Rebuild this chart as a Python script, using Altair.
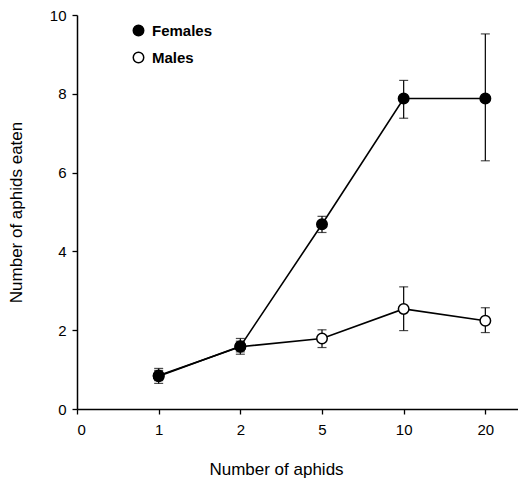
import altair as alt
import pandas as pd

x_labels = ["0", "1", "2", "5", "10", "20"]
aphids = ["1", "2", "5", "10", "20"]
fem_mean = [0.83, 1.59, 4.69, 7.88, 7.88]
fem_lo = [0.65, 1.39, 4.48, 7.38, 6.30]
fem_hi = [1.03, 1.79, 4.89, 8.34, 9.52]
male_mean = [0.85, 1.58, 1.79, 2.54, 2.24]
male_lo = [0.72, 1.45, 1.56, 1.99, 1.94]
male_hi = [0.98, 1.72, 2.01, 3.10, 2.57]

rows = []
for sex, m, lo, hi in [("Males", male_mean, male_lo, male_hi),
                       ("Females", fem_mean, fem_lo, fem_hi)]:
    for i, a in enumerate(aphids):
        rows.append({"sex": sex, "pos": x_labels.index(a), "mean": m[i],
                     "lo": lo[i], "hi": hi[i],
                     "order": 0 if sex == "Males" else 1})
df = pd.DataFrame(rows)

label_expr = "[" + ",".join("'%s'" % s for s in x_labels) + "][datum.value]"
ytitle = "Number of aphids eaten"

xenc = alt.X("pos:Q", scale=alt.Scale(domain=[0, 5.4], nice=False),
             axis=alt.Axis(values=list(range(len(x_labels))), labelExpr=label_expr,
                           title="Number of aphids", titlePadding=24,
                           titleX=199, titleAlign="center", labelPadding=8,
                           titleFontSize=17))
yenc = alt.Y("mean:Q", scale=alt.Scale(domain=[0, 10], nice=False),
             axis=alt.Axis(values=[0, 2, 4, 6, 8, 10], title=ytitle,
                           titlePadding=24, titleFontSize=17))

base = alt.Chart(df)

lines = base.mark_line(color="black", strokeWidth=1.6).encode(
    x=xenc, y=yenc, detail="sex:N", order="pos:Q")

err = base.mark_errorbar(ticks={"size": 9, "thickness": 1.2}, color="black",
                         thickness=1.2).encode(
    x="pos:Q", y=alt.Y("lo:Q", title=ytitle), y2="hi:Q")

pts = base.mark_point(filled=True, stroke="black", strokeWidth=1.5, size=110,
                      opacity=1, shape="circle").encode(
    x="pos:Q", y=alt.Y("mean:Q", title=ytitle),
    fill=alt.Fill("sex:N",
                  scale=alt.Scale(domain=["Females", "Males"], range=["black", "white"]),
                  legend=alt.Legend(orient="none", legendX=54, legendY=8, title=None,
                                    symbolStrokeColor="black", symbolStrokeWidth=1.5,
                                    symbolSize=110, symbolType="circle",
                                    labelFont="Liberation Sans", labelFontSize=15,
                                    labelFontWeight="bold", rowPadding=10,
                                    labelOffset=6, symbolOpacity=1)),
    order="order:Q")

chart = alt.layer(lines, err, pts).properties(
    width=441, height=394,
    padding={"left": 69, "top": 7, "right": 0, "bottom": 75},
    autosize=alt.AutoSizeParams(type="none"),
).configure_view(stroke=None).configure_axis(
    grid=False, domainColor="black", domainWidth=1.5, tickColor="black",
    tickWidth=1.3, tickSize=5, labelFont="Liberation Sans", labelFontSize=15,
    labelColor="black", titleFont="Liberation Sans", titleFontSize=16,
    titleFontWeight="normal", titleColor="black", labelPadding=6
)

chart.save("out.html", embed_options={"renderer": "svg", "actions": False})
